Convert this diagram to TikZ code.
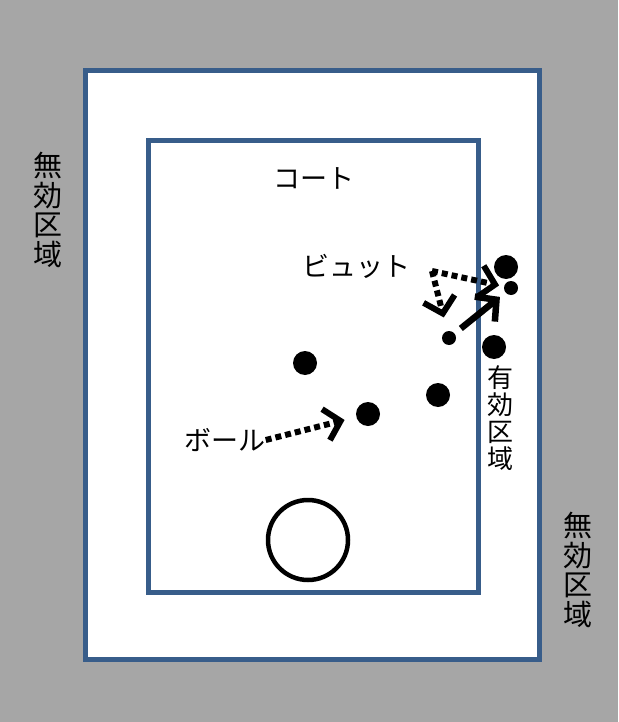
\documentclass[tikz,border=0pt]{standalone}
\usepackage{fontspec}
\setmainfont{Noto Sans CJK JP}
\usetikzlibrary{arrows.meta}
\definecolor{zonegray}{RGB}{166,166,166}
\definecolor{lineblue}{RGB}{56,93,138}

\begin{document}
\begin{tikzpicture}
	[x=1pt,y=-1pt,
	court/.style={draw=lineblue,line width=5pt,fill=white},
	ball/.style={circle,fill=black,inner sep=0pt,minimum size=24pt},
	pin/.style={circle,fill=black,inner sep=0pt,minimum size=14pt},
	txt/.style={font=\fontsize{27}{30}\selectfont,inner sep=0pt},
	vtxt/.style={txt,align=center,font=\fontsize{29}{29.5}\selectfont},
	move/.style={line width=6.5pt,-{Straight Barb[length=15pt,width=32pt]}},
	dotmove/.style={move,line width=6pt,dash pattern=on 6pt off 4pt}]
	\fill[zonegray] (0,0) rectangle (618,722);
	\draw[court] (85,71) rectangle (539,659);
	\draw[court] (148,141) rectangle (478,592);
	\node[draw,circle,line width=4.5pt,inner sep=0pt,minimum size=80pt] (spot) at (308,540) {};
	% labels
	\node[txt] (courtlabel) at (314,178) {コート};
	\node[txt] (pitlabel) at (356,266) {ビュット};
	\node[txt] (balllabel) at (225,440) {ボール};
	\node[vtxt] (deadleft) at (48,210) {無\\効\\区\\域};
	\node[vtxt] (deadright) at (578,570) {無\\効\\区\\域};
	\node[vtxt,font=\fontsize{26}{27}\selectfont] (live) at (500,418) {有\\効\\区\\域};
	% balls
	\node[ball] (b1) at (305,363) {};
	\node[ball] (b2) at (368,414) {};
	\node[ball] (b3) at (438,395) {};
	\node[ball] (b4) at (494,347) {};
	\node[ball] (b5) at (506,267) {};
	\node[pin] (p1) at (449,338) {};
	\node[pin] (p2) at (511,288) {};
	% moves
	\coordinate (aim) at (432,271);
	\draw[dotmove,shorten >=12pt] (balllabel.east) -- (b2);
	\draw[dotmove,shorten >=5pt] (aim) -- (p2);
	\draw[dotmove,shorten >=14pt] (aim) -- (p1);
	\draw[move,shorten <=8pt,shorten >=7pt] (p1) -- (p2);
\end{tikzpicture}
\end{document}
